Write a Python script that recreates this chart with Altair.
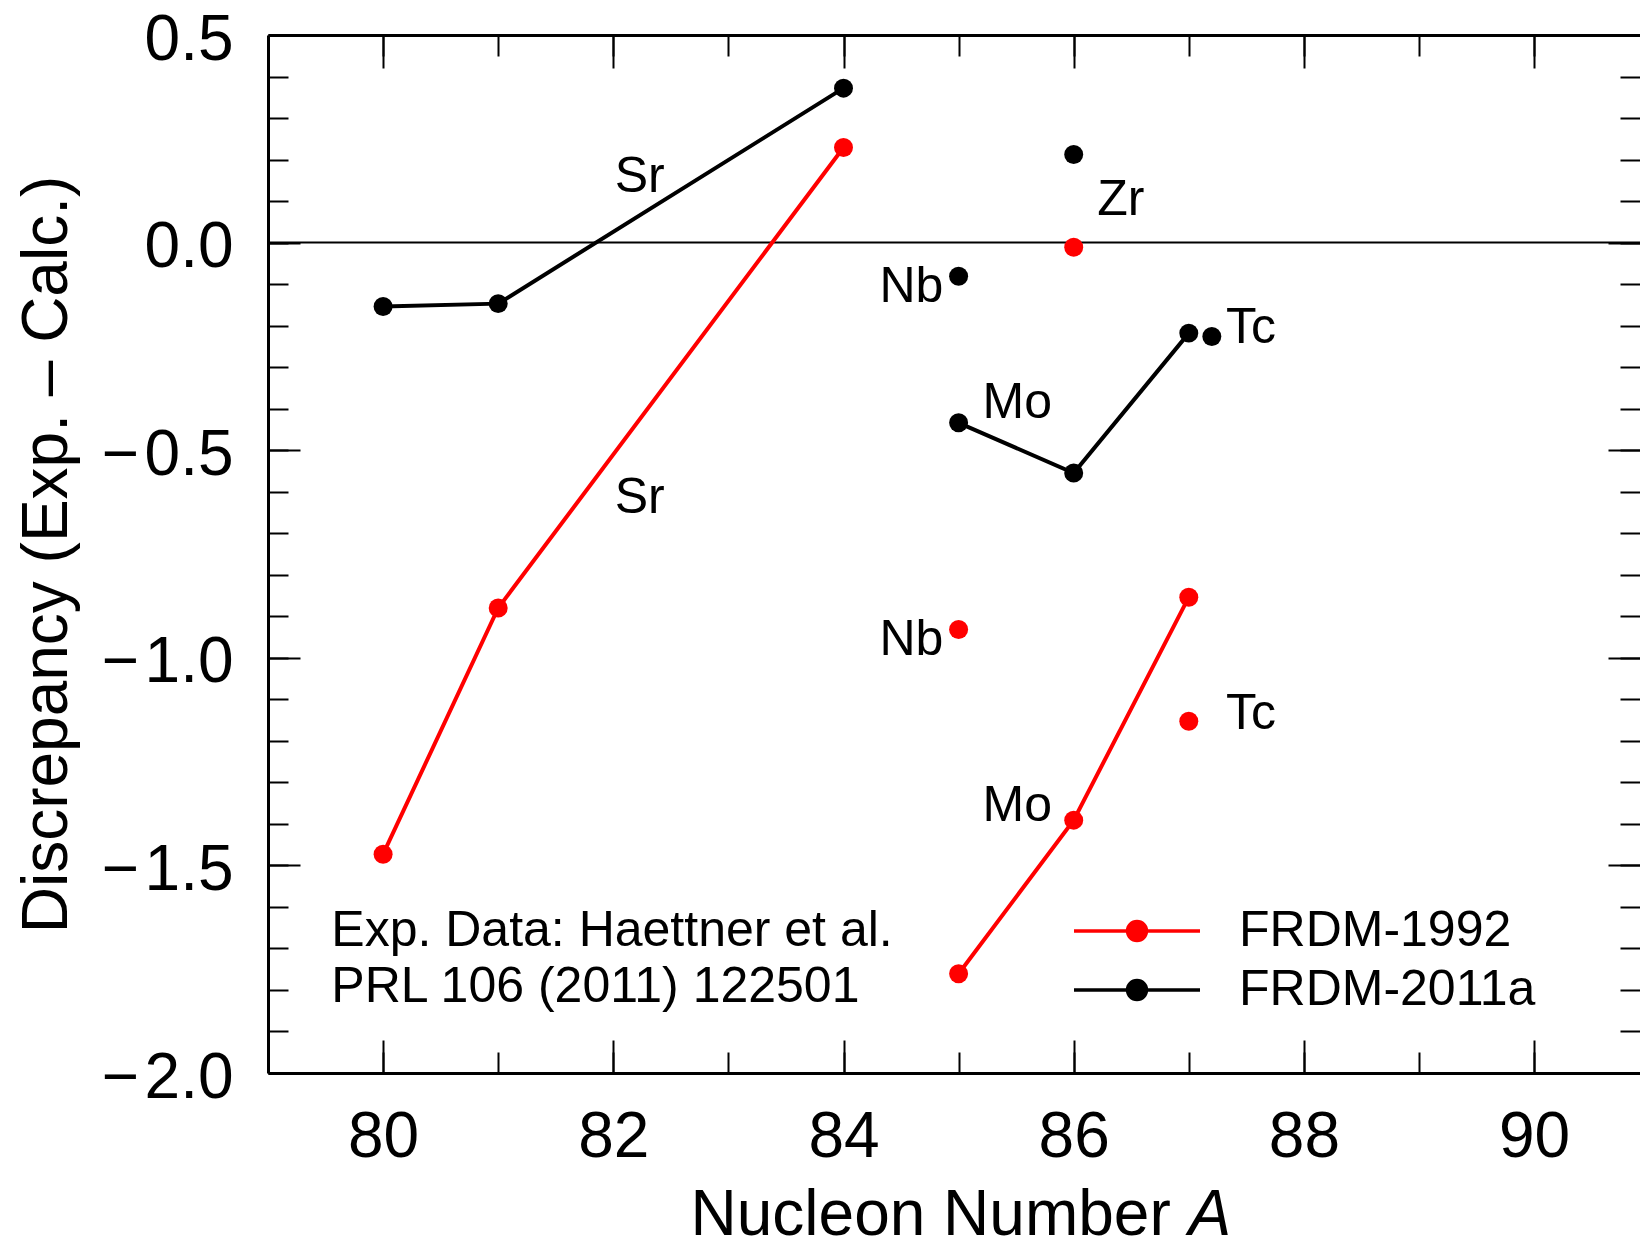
import altair as alt
import pandas as pd

MODEL_OLD = "FRDM-1992"
MODEL_NEW = "FRDM-2011a"

# FRDM-1992 discrepancies (red)
a_1992 = [80, 81, 84, 85, 86, 85, 86, 87, 87]
d_1992 = [-1.473, -0.880, 0.229, -0.932, -0.011, -1.761, -1.391, -0.854, -1.153]
el_1992 = ["Sr", "Sr", "Sr", "Nb", "Zr", "Mo", "Mo", "Mo", "Tc"]

# FRDM-2011a discrepancies (black)
a_2011 = [80, 81, 84, 85, 86, 85, 86, 87, 87.2]
d_2011 = [-0.154, -0.147, 0.372, -0.081, 0.212, -0.434, -0.555, -0.218, -0.226]
el_2011 = ["Sr", "Sr", "Sr", "Nb", "Zr", "Mo", "Mo", "Mo", "Tc"]

# element labels
label_text = ["Sr", "Sr", "Zr", "Nb", "Mo", "Tc", "Nb", "Tc", "Mo"]
label_a = [82.23, 82.23, 86.41, 84.59, 85.51, 87.54, 84.59, 87.54, 85.51]
label_d = [0.158, -0.616, 0.102, -0.108, -0.387, -0.206, -0.958, -1.136, -1.357]

# reference note
note_lines = ["Exp. Data: Haettner et al.", "PRL 106 (2011) 122501"]
note_a = [79.55, 79.55]
note_d = [-1.659, -1.792]

x_major = [80, 82, 84, 86, 88, 90]
x_minor = [80, 81, 82, 83, 84, 85, 86, 87, 88, 89, 90]
y_major = [-2.0, -1.5, -1.0, -0.5, 0.0, 0.5]
y_minor = [-2.0, -1.9, -1.8, -1.7, -1.6, -1.5, -1.4, -1.3, -1.2, -1.1, -1.0,
           -0.9, -0.8, -0.7, -0.6, -0.5, -0.4, -0.3, -0.2, -0.1, 0.0,
           0.1, 0.2, 0.3, 0.4, 0.5]

pts = pd.DataFrame({
    "A": a_1992 + a_2011,
    "D": d_1992 + d_2011,
    "element": el_1992 + el_2011,
    "model": [MODEL_OLD] * len(a_1992) + [MODEL_NEW] * len(a_2011),
})
pts["series"] = pts["model"] + "-" + pts["element"]
labels = pd.DataFrame({"A": label_a, "D": label_d, "text": label_text})
notes = pd.DataFrame({"A": note_a, "D": note_d, "text": note_lines})
zero = pd.DataFrame({"z": [0.0]})

FONT = "Liberation Sans"
RED = "#ff0000"
BLACK = "#000000"
xs = alt.Scale(domain=[79, 90.92], nice=False, zero=False)
ys = alt.Scale(domain=[-2.0, 0.5], nice=False, zero=False)

colors = alt.Scale(domain=[MODEL_OLD, MODEL_NEW], range=[RED, BLACK])
LEG_PATH = "M-1,0H1M0.15,0A0.15,0.15,0,1,1,-0.15,0A0.15,0.15,0,1,1,0.15,0Z"
sym_color = {"expr": f"datum.value === '{MODEL_OLD}' ? '{RED}' : '{BLACK}'"}
legend = alt.Legend(
    title=None, orient="none", legendX=804, legendY=871, padding=0,
    symbolType=LEG_PATH, symbolSize=15876, symbolStrokeWidth=3.5,
    symbolFillColor=sym_color, symbolStrokeColor=sym_color, symbolOpacity=1,
    labelFont=FONT, labelFontSize=50, labelColor="black", labelOffset=37,
    labelLimit=0, rowPadding=9, clipHeight=50,
)


def tick_axis(orient, values, size, **kw):
    base = dict(orient=orient, values=values, tickSize={"expr": str(-size)},
                labels=False, domain=False, title=None, grid=False,
                tickColor="black", tickWidth=2)
    base.update(kw)
    return alt.Axis(**base)


common = dict(domainColor="black", domainWidth=3, labelFont=FONT,
              labelFontSize=64, labelColor="black", labelFlush=False,
              labelOverlap=False, titleFont=FONT, titleFontSize=64,
              titleFontWeight="normal", titleColor="black")

ax_bottom = tick_axis(
    "bottom", x_major, 33, labels=True, domain=True, labelPadding=97,
    labelBaseline="middle", format="d",
    title="Nucleon Number", titleX=422, titleY=161, titleAlign="left",
    titleBaseline="alphabetic", titleAngle=0, **common)
ax_left = tick_axis(
    "left", y_major, 32, labels=True, domain=True, labelPadding=67,
    labelOffset=5,
    labelExpr="datum.value < 0 ? '\u2212\u200a' + format(-datum.value, '.1f') : format(datum.value, '.1f')",
    title="Discrepancy (Exp. \u2013 Calc.)", titleX=-220.5, titleY=519,
    titleAngle=270, titleAlign="center", titleBaseline="middle", **common)
ax_bottom_minor = tick_axis(
    "bottom", x_minor, 21, title="A", titleX=920, titleY=161,
    titleAlign="left", titleBaseline="alphabetic", titleAngle=0,
    titleFont=FONT, titleFontSize=64, titleFontWeight="normal",
    titleFontStyle="italic", titleColor="black")
ax_left_minor = tick_axis("left", y_minor, 20)
ax_top = tick_axis("top", x_major, 33, domain=True, domainColor="black",
                   domainWidth=3)
ax_right = tick_axis("right", y_major, 32)
ax_top_minor = tick_axis("top", x_minor, 21)
ax_right_minor = tick_axis("right", y_minor, 20)

lines = alt.Chart(pts).transform_filter(
    alt.FieldOneOfPredicate(field="element", oneOf=["Sr", "Mo"])
).mark_line(strokeWidth=4).encode(
    x=alt.X("A:Q", scale=xs, axis=ax_bottom),
    y=alt.Y("D:Q", scale=ys, axis=ax_left),
    color=alt.Color("model:N", scale=colors, legend=legend),
    detail="series:N",
)

points = alt.Chart(pts).mark_circle(size=360, opacity=1).encode(
    x=alt.X("A:Q", scale=xs, axis=ax_bottom_minor),
    y=alt.Y("D:Q", scale=ys, axis=ax_left_minor),
    color=alt.Color("model:N", scale=colors, legend=legend),
)

element_text = alt.Chart(labels).mark_text(
    font=FONT, fontSize=50, color="black", align="center", baseline="middle"
).encode(
    x=alt.X("A:Q", scale=xs, axis=ax_top),
    y=alt.Y("D:Q", scale=ys, axis=ax_right),
    text="text:N",
)

note_text = alt.Chart(notes).mark_text(
    font=FONT, fontSize=50, color="black", align="left", baseline="middle"
).encode(
    x=alt.X("A:Q", scale=xs, axis=ax_top_minor),
    y=alt.Y("D:Q", scale=ys, axis=ax_right_minor),
    text="text:N",
)

zero_line = alt.Chart(zero).mark_rule(color="black", strokeWidth=2).encode(
    y=alt.Y("z:Q", scale=ys, axis=None),
)

chart = alt.layer(
    zero_line, lines, points, element_text, note_text
).resolve_axis(
    x="independent", y="independent"
).properties(
    width=1372, height=1038,
    autosize=alt.AutoSizeParams(type="none"),
    padding={"left": 260, "top": 27, "right": 0, "bottom": 178},
    background="white",
).configure_view(stroke=None)

chart.save("out.html", embed_options={"renderer": "svg", "actions": False})
